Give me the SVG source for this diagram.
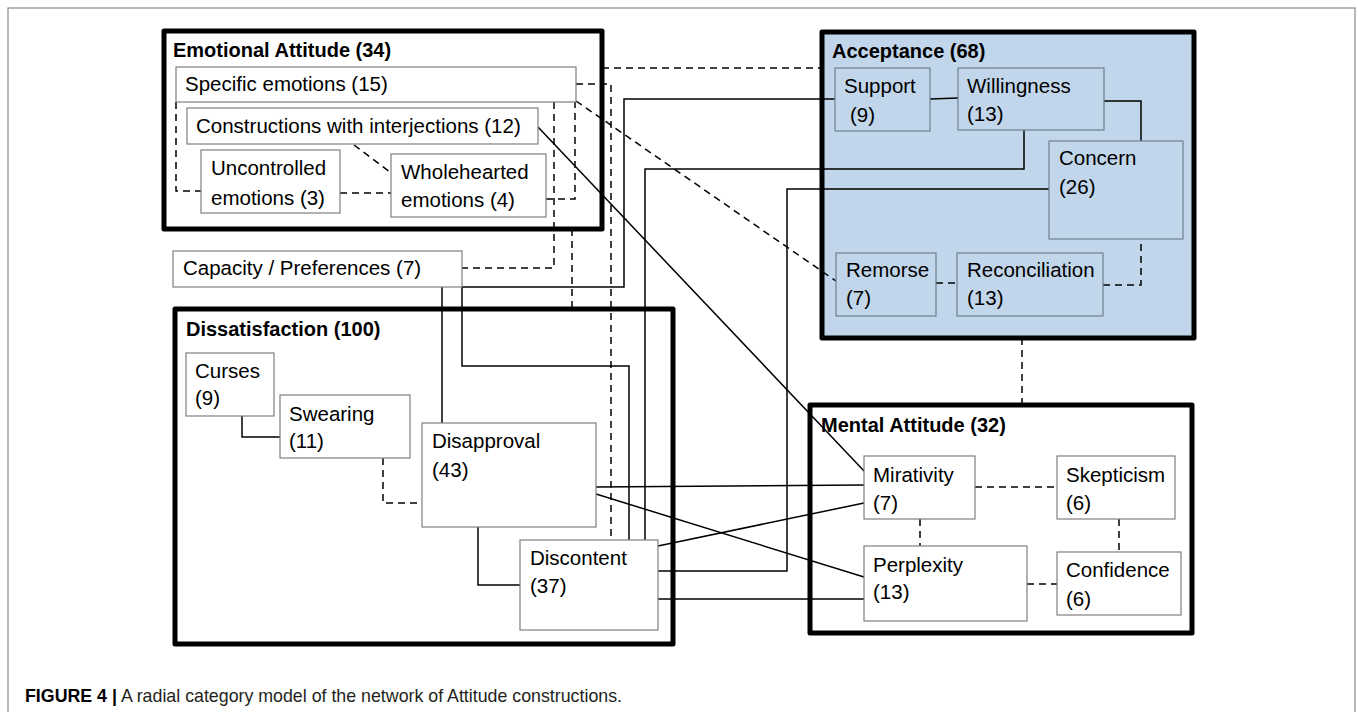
<svg xmlns="http://www.w3.org/2000/svg" width="1358" height="712" viewBox="0 0 1358 712">
<style>
.frame{fill:none;stroke:#8a8a8a;stroke-width:1.2}
.cont{fill:none;stroke:#000;stroke-width:5;stroke-linejoin:round}
.node{fill:#fff;stroke:#7f7f7f;stroke-width:1.2}
.nodeb{fill:#c1d6eb;stroke:#6f7f8f;stroke-width:1.2}
.title{font-family:"Liberation Sans",Arial,sans-serif;font-weight:bold;font-size:20px;fill:#000}
.lbl{font-family:"Liberation Sans",Arial,sans-serif;font-size:20.5px;fill:#000}
.s{fill:none;stroke:#000;stroke-width:1.5}
.d{fill:none;stroke:#000;stroke-width:1.5;stroke-dasharray:7 5}
.cap{font-family:"Liberation Sans",Arial,sans-serif;font-size:17.8px;fill:#231f20}
</style>
<rect x="0" y="0" width="1358" height="712" fill="#fff"/>
<rect class="frame" x="8" y="8" width="1347" height="740"/>

<g id="acceptance">
<rect x="822" y="32" width="372" height="306" fill="#c1d6eb" stroke="#000" stroke-width="5" stroke-linejoin="round"/>
<text class="title" x="832" y="58">Acceptance (68)</text>
</g>
<g id="emotional-attitude">
<rect class="cont" x="164" y="31" width="438" height="198"/>
<text class="title" x="173" y="57">Emotional Attitude (34)</text>
</g>
<g id="dissatisfaction">
<rect class="cont" x="175" y="309" width="498" height="335"/>
<text class="title" x="186" y="336">Dissatisfaction (100)</text>
</g>
<g id="mental-attitude">
<rect class="cont" x="810" y="405" width="382" height="228"/>
<text class="title" x="821" y="432">Mental Attitude (32)</text>
</g>

<g id="connectors">
<path class="d" d="M602,68 H822"/>
<path class="d" d="M176,102 V191 H201"/>
<path class="d" d="M354,145 L390,172"/>
<path class="d" d="M340,193 H391"/>
<path class="d" d="M546,199 H575 V102"/>
<path class="d" d="M554,102 V268 H462"/>
<path class="d" d="M572,229 V309"/>
<path class="d" d="M576,84 H611 V540"/>
<path class="d" d="M576,101 L836,281"/>
<path class="d" d="M383,458 V503 H422"/>
<path class="d" d="M936,283 H957"/>
<path class="d" d="M1103,285 H1141 V239"/>
<path class="d" d="M1022,338 V405"/>
<path class="d" d="M975,487 H1057"/>
<path class="d" d="M920,519 V546"/>
<path class="d" d="M1119,519 V552"/>
<path class="d" d="M1027,584 H1057"/>
<path class="s" d="M538,127 L865,472"/>
<path class="s" d="M462,287 H624 V99 H835"/>
<path class="s" d="M442,287 V423"/>
<path class="s" d="M462,287 V366 H629 V540"/>
<path class="s" d="M1024,129 V169 H645 V540"/>
<path class="s" d="M658,571 H787 V189 H1049"/>
<path class="s" d="M930,99 L958,98"/>
<path class="s" d="M1104,101 H1141 V141"/>
<path class="s" d="M242,416 V437 H280"/>
<path class="s" d="M478,527 V585 H520"/>
<path class="s" d="M596,487 L864,485"/>
<path class="s" d="M596,494 L864,577"/>
<path class="s" d="M658,546 L864,503"/>
<path class="s" d="M658,599 H864"/>
</g>

<g id="specific-emotions">
<rect class="node" x="176" y="67" width="400" height="35"/>
<text class="lbl" x="185" y="91">Specific emotions (15)</text>
</g>
<g id="constructions-with-interjections">
<rect class="node" x="187" y="108" width="351" height="36"/>
<text class="lbl" x="196" y="133">Constructions with interjections (12)</text>
</g>
<g id="uncontrolled-emotions">
<rect class="node" x="201" y="150" width="139" height="63"/>
<text class="lbl" x="211" y="175">Uncontrolled</text>
<text class="lbl" x="211" y="205">emotions (3)</text>
</g>
<g id="wholehearted-emotions">
<rect class="node" x="391" y="154" width="155" height="63"/>
<text class="lbl" x="401" y="179">Wholehearted</text>
<text class="lbl" x="401" y="207">emotions (4)</text>
</g>
<g id="capacity-preferences">
<rect class="node" x="173" y="251" width="289" height="36"/>
<text class="lbl" x="183" y="275">Capacity / Preferences (7)</text>
</g>
<g id="curses">
<rect class="node" x="186" y="353" width="88" height="63"/>
<text class="lbl" x="195" y="378">Curses</text>
<text class="lbl" x="195" y="405">(9)</text>
</g>
<g id="swearing">
<rect class="node" x="280" y="395" width="130" height="63"/>
<text class="lbl" x="289" y="421">Swearing</text>
<text class="lbl" x="289" y="448">(11)</text>
</g>
<g id="disapproval">
<rect class="node" x="422" y="423" width="174" height="104"/>
<text class="lbl" x="432" y="448">Disapproval</text>
<text class="lbl" x="432" y="477">(43)</text>
</g>
<g id="discontent">
<rect class="node" x="520" y="540" width="138" height="90"/>
<text class="lbl" x="530" y="565">Discontent</text>
<text class="lbl" x="530" y="593">(37)</text>
</g>
<g id="support">
<rect class="nodeb" x="835" y="68" width="95" height="63"/>
<text class="lbl" x="844" y="93">Support</text>
<text class="lbl" x="850" y="122">(9)</text>
</g>
<g id="willingness">
<rect class="nodeb" x="958" y="68" width="146" height="62"/>
<text class="lbl" x="967" y="93">Willingness</text>
<text class="lbl" x="967" y="121">(13)</text>
</g>
<g id="concern">
<rect class="nodeb" x="1049" y="141" width="134" height="98"/>
<text class="lbl" x="1059" y="165">Concern</text>
<text class="lbl" x="1059" y="194">(26)</text>
</g>
<g id="remorse">
<rect class="nodeb" x="836" y="253" width="100" height="63"/>
<text class="lbl" x="846" y="277">Remorse</text>
<text class="lbl" x="846" y="305">(7)</text>
</g>
<g id="reconciliation">
<rect class="nodeb" x="957" y="253" width="146" height="63"/>
<text class="lbl" x="967" y="277">Reconciliation</text>
<text class="lbl" x="967" y="305">(13)</text>
</g>
<g id="mirativity">
<rect class="node" x="864" y="456" width="111" height="63"/>
<text class="lbl" x="873" y="482">Mirativity</text>
<text class="lbl" x="873" y="510">(7)</text>
</g>
<g id="skepticism">
<rect class="node" x="1057" y="456" width="118" height="63"/>
<text class="lbl" x="1066" y="482">Skepticism</text>
<text class="lbl" x="1066" y="510">(6)</text>
</g>
<g id="perplexity">
<rect class="node" x="864" y="546" width="163" height="75"/>
<text class="lbl" x="873" y="572">Perplexity</text>
<text class="lbl" x="873" y="599">(13)</text>
</g>
<g id="confidence">
<rect class="node" x="1057" y="552" width="124" height="63"/>
<text class="lbl" x="1066" y="577">Confidence</text>
<text class="lbl" x="1066" y="606">(6)</text>
</g>

<text class="cap" x="25" y="702"><tspan font-weight="bold" fill="#000">FIGURE 4 |</tspan> A radial category model of the network of Attitude constructions.</text>
</svg>
